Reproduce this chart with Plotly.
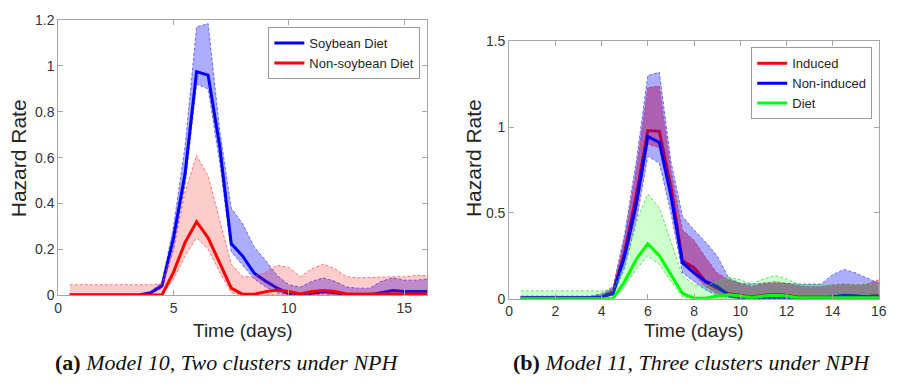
import plotly.graph_objects as go

# ---------------- data ----------------
days = [0.5, 1.0, 1.5, 2.0, 2.5, 3.0, 3.5, 4.0, 4.5, 5.0, 5.5, 6.0, 6.5, 7.0, 7.5, 8.0,
        8.5, 9.0, 9.5, 10.0, 10.5, 11.0, 11.5, 12.0, 12.5, 13.0, 13.5, 14.0, 14.5, 15.0, 15.5, 16.0]

# Panel (a): Model 10
soy_mean = [0, 0, 0, 0, 0, 0, 0, 0.01, 0.04, 0.25, 0.53, 0.975, 0.96, 0.65, 0.225, 0.17,
            0.095, 0.06, 0.03, 0.005, 0, 0.008, 0.015, 0.01, 0, 0, 0, 0.01, 0.02, 0.015, 0.015, 0.015]
soy_upper = [0, 0, 0, 0, 0, 0, 0.002, 0.015, 0.055, 0.3, 0.65, 1.17, 1.185, 0.72, 0.38, 0.31,
             0.21, 0.15, 0.085, 0.045, 0.035, 0.06, 0.075, 0.06, 0.035, 0.03, 0.03, 0.06, 0.075, 0.065, 0.065, 0.07]
soy_lower = [0, 0, 0, 0, 0, 0, 0, 0.005, 0.03, 0.2, 0.48, 0.92, 0.9, 0.58, 0.19, 0.13,
             0.07, 0.035, 0.01, 0, 0, 0, 0.005, 0, 0, 0, 0, 0, 0.005, 0.005, 0.005, 0.005]

nonsoy_mean = [0, 0, 0, 0, 0, 0, 0, 0, 0, 0.1, 0.23, 0.32, 0.25, 0.14, 0.03, 0.003,
               0.003, 0.015, 0.022, 0.015, 0.005, 0.015, 0.02, 0.015, 0.005, 0.005, 0.005, 0.005, 0.005, 0.005, 0.005, 0.005]
nonsoy_upper = [0.045, 0.045, 0.045, 0.045, 0.045, 0.045, 0.045, 0.045, 0.05, 0.2, 0.45, 0.61, 0.52, 0.33, 0.135, 0.08,
                0.08, 0.1, 0.13, 0.12, 0.08, 0.115, 0.135, 0.115, 0.08, 0.075, 0.075, 0.078, 0.08, 0.08, 0.085, 0.085]
nonsoy_lower = [0, 0, 0, 0, 0, 0, 0, 0, 0, 0.07, 0.17, 0.25, 0.2, 0.1, 0.01, 0,
                0, 0, 0, 0, 0, 0, 0, 0, 0, 0, 0, 0, 0, 0, 0, 0]

# Panel (b): Model 11
ind_mean = [0.005, 0.005, 0.005, 0.005, 0.005, 0.005, 0.005, 0.01, 0.04, 0.27, 0.6, 0.98, 0.975, 0.65, 0.22, 0.18,
            0.1, 0.06, 0.03, 0.02, 0.01, 0.02, 0.025, 0.02, 0.01, 0.01, 0.01, 0.01, 0.015, 0.012, 0.012, 0.02]
ind_upper = [0.01, 0.01, 0.01, 0.01, 0.01, 0.01, 0.01, 0.02, 0.06, 0.35, 0.75, 1.23, 1.24, 0.75, 0.4, 0.34,
             0.24, 0.15, 0.11, 0.09, 0.07, 0.09, 0.1, 0.09, 0.075, 0.07, 0.07, 0.08, 0.085, 0.08, 0.085, 0.11]
ind_lower = [0, 0, 0, 0, 0, 0, 0, 0.005, 0.03, 0.22, 0.5, 0.9, 0.88, 0.58, 0.2, 0.14,
             0.07, 0.03, 0.01, 0, 0, 0, 0, 0, 0, 0, 0, 0, 0, 0, 0, 0]

nonind_mean = [0.005, 0.005, 0.005, 0.005, 0.005, 0.005, 0.005, 0.01, 0.03, 0.25, 0.55, 0.945, 0.91, 0.6, 0.21, 0.15,
               0.1, 0.07, 0.02, 0.005, 0, 0, 0.005, 0, 0, 0, 0, 0.01, 0.02, 0.015, 0.01, 0.01]
nonind_upper = [0.015, 0.015, 0.015, 0.015, 0.015, 0.015, 0.015, 0.03, 0.07, 0.38, 0.8, 1.3, 1.32, 0.8, 0.48, 0.4,
                0.33, 0.25, 0.12, 0.09, 0.085, 0.09, 0.09, 0.09, 0.085, 0.085, 0.085, 0.14, 0.17, 0.15, 0.12, 0.09]
nonind_lower = [0, 0, 0, 0, 0, 0, 0, 0.005, 0.02, 0.18, 0.45, 0.83, 0.79, 0.5, 0.15, 0.1,
                0.05, 0.02, 0.005, 0, 0, 0, 0, 0, 0, 0, 0, 0, 0, 0, 0, 0]

diet_mean = [0, 0, 0, 0, 0, 0, 0, 0, 0, 0.1, 0.23, 0.32, 0.25, 0.14, 0.03, 0.003,
             0.003, 0.015, 0.022, 0.015, 0.005, 0.015, 0.02, 0.015, 0.005, 0.005, 0.005, 0.005, 0.005, 0.005, 0.005, 0.005]
diet_upper = [0.045, 0.045, 0.045, 0.045, 0.045, 0.045, 0.045, 0.045, 0.05, 0.2, 0.45, 0.61, 0.53, 0.33, 0.135, 0.08,
              0.075, 0.1, 0.125, 0.11, 0.085, 0.115, 0.135, 0.115, 0.085, 0.08, 0.08, 0.08, 0.08, 0.08, 0.085, 0.085]
diet_lower = [0, 0, 0, 0, 0, 0, 0, 0, 0, 0.07, 0.17, 0.25, 0.2, 0.1, 0.01, 0,
              0, 0, 0, 0, 0, 0, 0, 0, 0, 0, 0, 0, 0, 0, 0, 0]

left_xticks = [0, 5, 10, 15]
left_yticks = [0, 0.2, 0.4, 0.6, 0.8, 1.0, 1.2]
left_yticklabels = ["0", "0.2", "0.4", "0.6", "0.8", "1", "1.2"]
right_xticks = [0, 2, 4, 6, 8, 10, 12, 14, 16]
right_yticks = [0, 0.5, 1.0, 1.5]
right_yticklabels = ["0", "0.5", "1", "1.5"]

# ---------------- figure ----------------
fig = go.Figure()


def add_group(name, mean, lower, upper, line_color, fill_color, edge_color, xa, ya, legend):
    fig.add_trace(go.Scatter(x=days, y=lower, mode="lines", xaxis=xa, yaxis=ya,
                             line=dict(color=edge_color, width=1, dash="3px,2px"),
                             showlegend=False, hoverinfo="skip"))
    fig.add_trace(go.Scatter(x=days, y=upper, mode="lines", xaxis=xa, yaxis=ya,
                             line=dict(color=edge_color, width=1, dash="3px,2px"),
                             fill="tonexty", fillcolor=fill_color,
                             showlegend=False, hoverinfo="skip"))
    fig.add_trace(go.Scatter(x=days, y=mean, mode="lines", name=name, xaxis=xa, yaxis=ya,
                             line=dict(color=line_color, width=3), legend=legend))


BLUE = "#0000ff"
RED = "#ff0000"
GREEN = "#00ff00"

add_group("Soybean Diet", soy_mean, soy_lower, soy_upper, BLUE,
          "rgba(0,0,255,0.32)", "rgba(60,60,255,0.7)", "x", "y", "legend")
add_group("Non-soybean Diet", nonsoy_mean, nonsoy_lower, nonsoy_upper, RED,
          "rgba(255,0,0,0.2)", "rgba(255,90,90,0.8)", "x", "y", "legend")

add_group("Induced", ind_mean, ind_lower, ind_upper, RED,
          "rgba(255,0,0,0.45)", "rgba(255,90,90,0.8)", "x2", "y2", "legend2")
add_group("Non-induced", nonind_mean, nonind_lower, nonind_upper, BLUE,
          "rgba(0,0,255,0.32)", "rgba(60,60,255,0.7)", "x2", "y2", "legend2")
add_group("Diet", diet_mean, diet_lower, diet_upper, GREEN,
          "rgba(0,255,0,0.2)", "rgba(60,220,60,0.8)", "x2", "y2", "legend2")

AXCOL = "#a6a6a6"
TICKFONT = dict(family="Liberation Sans, Arial, sans-serif", size=14, color="#333333")

common_axis = dict(showline=True, linecolor=AXCOL, linewidth=1, mirror="ticks",
                   ticks="inside", ticklen=5, tickcolor=AXCOL, showgrid=False,
                   zeroline=False, tickfont=TICKFONT, fixedrange=True)

LEGFONT = dict(family="Liberation Sans, Arial, sans-serif", size=13, color="#262626")

fig.update_layout(
    width=898, height=384,
    margin=dict(l=0, r=0, t=0, b=0),
    paper_bgcolor="white", plot_bgcolor="white",
    font=dict(family="Liberation Sans, Arial, sans-serif", color="#262626"),
    xaxis=dict(domain=[0.0612, 0.4777], range=[0, 16], tickvals=left_xticks, anchor="y", **common_axis),
    yaxis=dict(domain=[0.22, 0.967], range=[0, 1.2], tickvals=left_yticks,
               ticktext=left_yticklabels, anchor="x", **common_axis),
    xaxis2=dict(domain=[0.5702, 0.9874], range=[0, 16], tickvals=right_xticks, anchor="y2", **common_axis),
    yaxis2=dict(domain=[0.2102, 0.9096], range=[0, 1.5], tickvals=right_yticks,
                ticktext=right_yticklabels, anchor="x2", **common_axis),
    legend=dict(x=422 / 898, y=1 - 20 / 384, xanchor="right", yanchor="top", traceorder="normal",
                bgcolor="white", bordercolor="#999999", borderwidth=1,
                font=LEGFONT, tracegroupgap=0, itemwidth=30),
    legend2=dict(x=880 / 898, y=1 - 41 / 384, xanchor="right", yanchor="top", traceorder="normal",
                 bgcolor="white", bordercolor="#999999", borderwidth=1,
                 font=LEGFONT, tracegroupgap=0, itemwidth=30),
)

TITLEFONT = dict(family="Liberation Sans, Arial, sans-serif", size=21, color="#262626")
CAPFONT = dict(family="Liberation Serif, Times New Roman, serif", size=22, color="#111111")

annotations = [
    dict(text="Hazard Rate", x=15 / 898, y=1 - 157 / 384, textangle=-90, font=TITLEFONT),
    dict(text="Hazard Rate", x=476 / 898, y=1 - 157 / 384, textangle=-90, font=TITLEFONT),
    dict(text="Time (days)", x=242 / 898, y=1 - 336 / 384, font=dict(TITLEFONT, size=19)),
    dict(text="Time (days)", x=699 / 898, y=1 - 336 / 384, font=dict(TITLEFONT, size=19)),
    dict(text="<b>(a)</b> <i>Model 10, Two clusters under NPH</i>", x=226 / 898, y=1 - 370 / 384, font=CAPFONT),
    dict(text="<b>(b)</b> <i>Model 11, Three clusters under NPH</i>", x=697 / 898, y=1 - 370 / 384, font=CAPFONT),
]
for a in annotations:
    a.update(xref="paper", yref="paper", showarrow=False, xanchor="center", yanchor="middle")
fig.update_layout(annotations=annotations)

fig.write_html("out.html", config={"displayModeBar": False},
               post_script="document.body.style.margin='0';document.body.style.overflow='hidden';")
